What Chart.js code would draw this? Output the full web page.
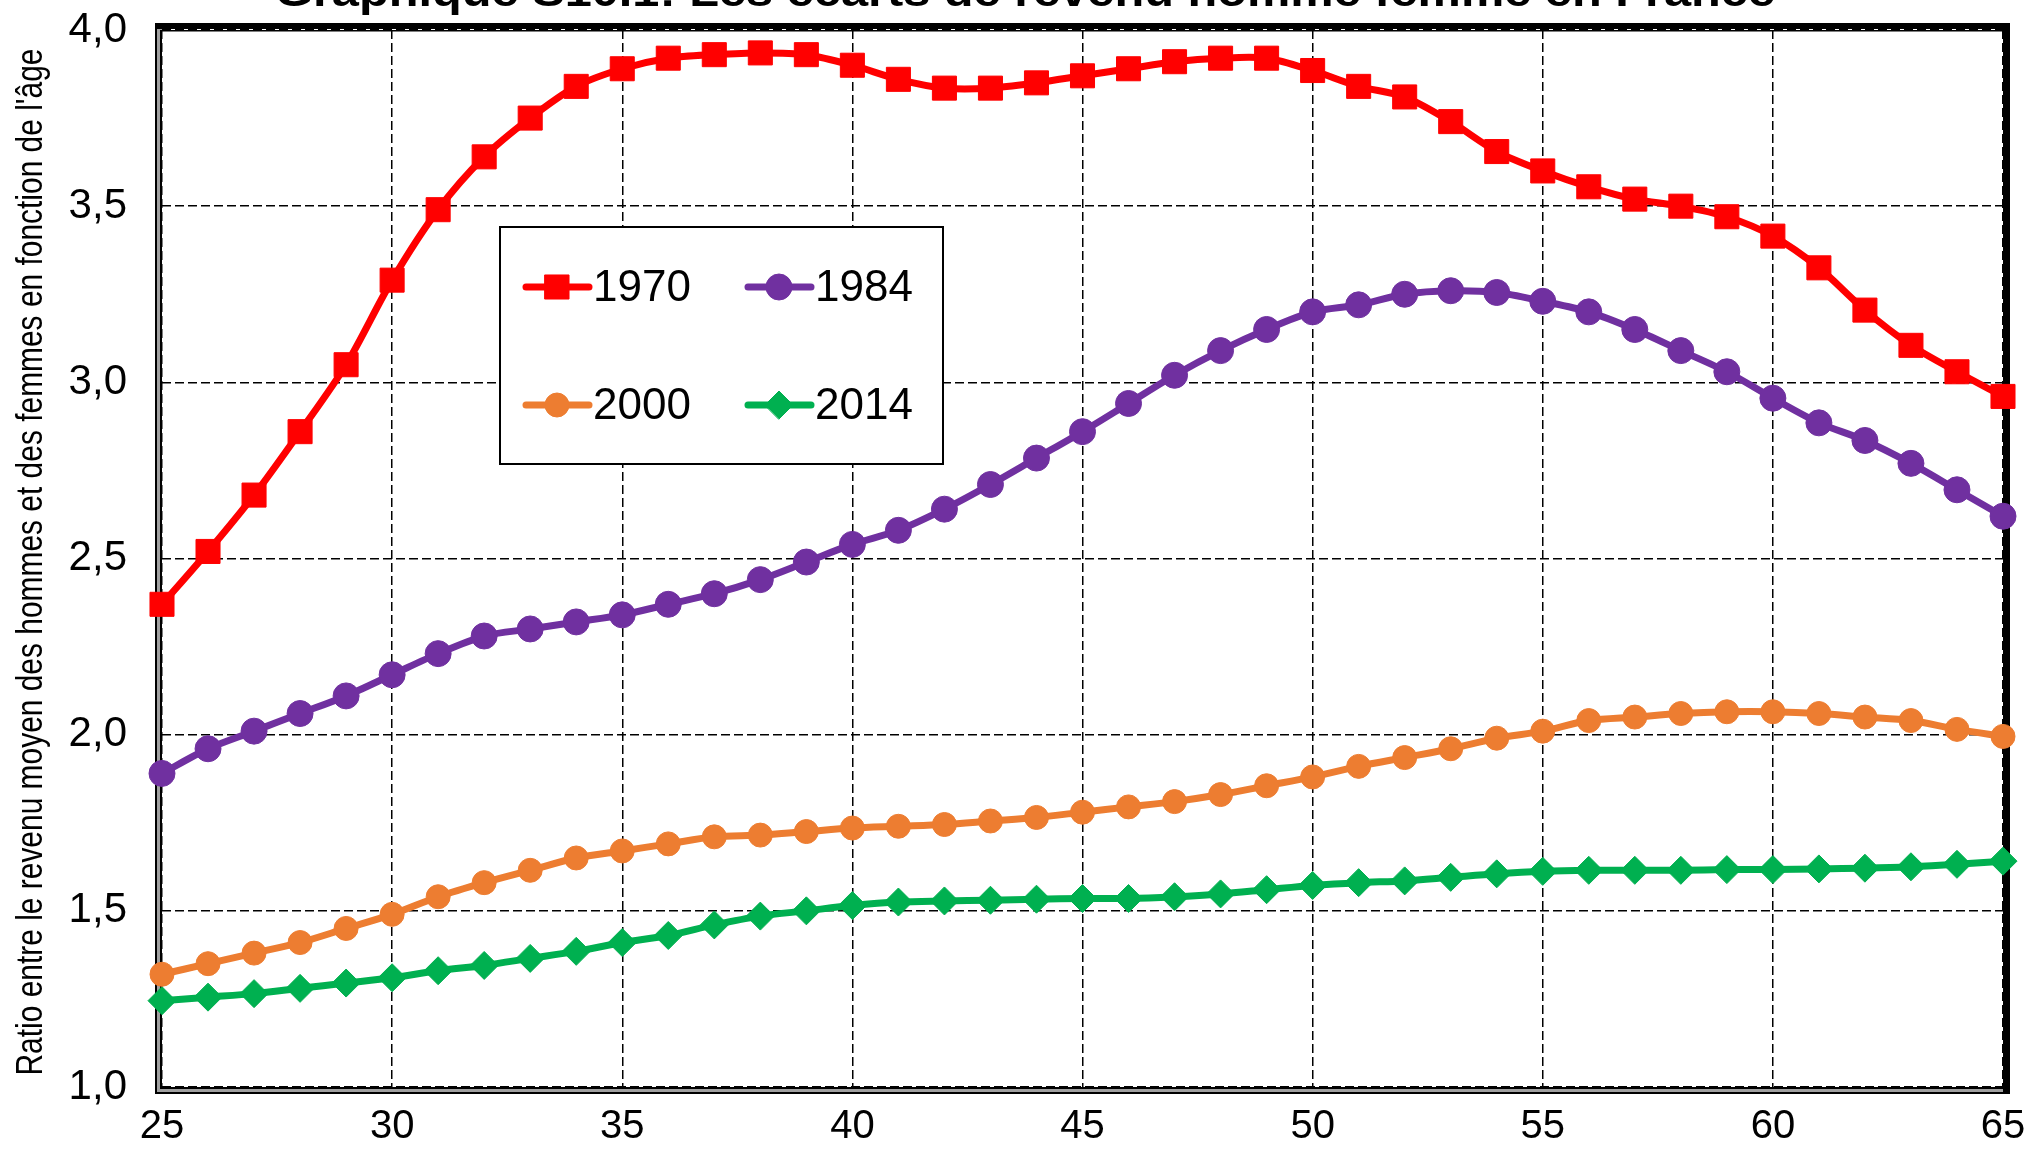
<!DOCTYPE html>
<html lang="fr">
<head>
<meta charset="utf-8">
<title>Graphique S10.1</title>
<script src="https://cdn.jsdelivr.net/npm/chart.js@4.4.1/dist/chart.umd.min.js"></script>
<style>
  html, body { margin: 0; padding: 0; background: #fff; }
  canvas { display: block; }
</style>
</head>
<body>
<canvas id="ecartChart" width="2033" height="1159"></canvas>
<script>
var ages = [25, 26, 27, 28, 29, 30, 31, 32, 33, 34, 35, 36, 37, 38, 39, 40, 41, 42, 43, 44, 45,
            46, 47, 48, 49, 50, 51, 52, 53, 54, 55, 56, 57, 58, 59, 60, 61, 62, 63, 64, 65];

var serie1970 = [2.37, 2.52, 2.68, 2.86, 3.05, 3.29, 3.49, 3.64, 3.75, 3.84, 3.89, 3.92, 3.93, 3.935, 3.93, 3.90, 3.86,
                 3.835, 3.835, 3.85, 3.87, 3.89, 3.91, 3.92, 3.92, 3.885, 3.84, 3.81, 3.74, 3.655, 3.60, 3.555, 3.52,
                 3.50, 3.47, 3.415, 3.325, 3.205, 3.105, 3.03, 2.96];
var serie1984 = [1.89, 1.96, 2.01, 2.06, 2.11, 2.17, 2.23, 2.28, 2.30, 2.32, 2.34, 2.37, 2.40, 2.44, 2.49, 2.54, 2.58,
                 2.64, 2.71, 2.785, 2.86, 2.94, 3.02, 3.09, 3.15, 3.20, 3.22, 3.25, 3.26, 3.255, 3.23, 3.20, 3.15,
                 3.09, 3.03, 2.955, 2.885, 2.835, 2.77, 2.695, 2.62];
var serie2000 = [1.32, 1.35, 1.38, 1.41, 1.45, 1.49, 1.54, 1.58, 1.615, 1.65, 1.67, 1.69, 1.71, 1.715, 1.725, 1.735, 1.74,
                 1.745, 1.755, 1.765, 1.78, 1.795, 1.81, 1.83, 1.855, 1.88, 1.91, 1.935, 1.96, 1.99, 2.01, 2.04, 2.05,
                 2.06, 2.065, 2.065, 2.06, 2.05, 2.04, 2.015, 1.995];
var serie2014 = [1.245, 1.255, 1.265, 1.28, 1.295, 1.31, 1.33, 1.345, 1.365, 1.385, 1.41, 1.43, 1.46, 1.485, 1.50, 1.515,
                 1.525, 1.528, 1.53, 1.533, 1.535, 1.535, 1.54, 1.548, 1.56, 1.572, 1.58, 1.585, 1.595, 1.605, 1.612,
                 1.615, 1.615, 1.615, 1.617, 1.617, 1.619, 1.621, 1.625, 1.632, 1.641];

var seriesNames = ['1970', '1984', '2000', '2014'];
var xTicks = [25, 30, 35, 40, 45, 50, 55, 60, 65];
var yTicks = [1.0, 1.5, 2.0, 2.5, 3.0, 3.5, 4.0];

var titre = "Graphique S10.1: Les écarts de revenu homme femme en France";
var titreAxeY = "Ratio entre le revenu moyen des hommes et des femmes en fonction de l'âge";

var police = "'Liberation Sans', Arial, sans-serif";

function points(values) {
    return ages.map(function (a, i) { return { x: a, y: values[i] }; });
}

function serie(label, values, color, style, radius) {
    return {
        label: label,
        data: points(values),
        borderColor: color,
        backgroundColor: color,
        borderWidth: 7,
        pointStyle: style,
        pointRadius: radius,
        pointHoverRadius: radius,
        pointBorderWidth: 1,
        pointBackgroundColor: color,
        pointBorderColor: color,
        tension: 0.3,
        clip: false
    };
}

// cadre façon Excel : gros trait en haut et à droite, double trait à gauche et en bas
var cadre = {
    id: 'cadre',
    beforeDatasetsDraw: function (chart) {
        var a = chart.chartArea, ctx = chart.ctx;
        var w = a.right - a.left, h = a.bottom - a.top;
        ctx.save();
        ctx.fillStyle = '#a0a0a0';
        ctx.fillRect(a.left - 7, a.top - 6, 7, h + 13);
        ctx.fillRect(a.left - 7, a.bottom, w + 13, 7);
        ctx.fillStyle = '#000';
        ctx.fillRect(a.left - 7, a.top - 6, 2, h + 13);
        ctx.fillRect(a.left - 2, a.top, 2, h + 2);
        ctx.fillRect(a.left - 7, a.bottom + 5, w + 14, 2);
        ctx.fillRect(a.left - 2, a.bottom, w + 2, 2);
        ctx.fillRect(a.left - 7, a.top - 7, w + 14, 6);
        ctx.fillRect(a.left, a.top, w, 1.5);
        ctx.fillRect(a.right, a.top - 7, 7, h + 14);
        ctx.restore();
    }
};

// légende en 2 x 2 dans un cadre
var legende = {
    id: 'legende',
    afterDraw: function (chart) {
        var ctx = chart.ctx;
        var box = { x: 500, y: 227, w: 443, h: 237 };
        var cols = [26, 248], rows = [60, 178];
        ctx.save();
        ctx.fillStyle = '#fff';
        ctx.fillRect(box.x, box.y, box.w, box.h);
        ctx.strokeStyle = '#000';
        ctx.lineWidth = 2;
        ctx.strokeRect(box.x, box.y, box.w, box.h);
        chart.data.datasets.forEach(function (ds, i) {
            var cx = box.x + cols[i % 2], cy = box.y + rows[Math.floor(i / 2)];
            ctx.strokeStyle = ds.borderColor;
            ctx.lineWidth = 7;
            ctx.lineCap = 'round';
            ctx.beginPath();
            ctx.moveTo(cx, cy);
            ctx.lineTo(cx + 63, cy);
            ctx.stroke();
            ctx.fillStyle = ds.pointBackgroundColor;
            ctx.lineWidth = 1;
            Chart.helpers.drawPoint(ctx, { pointStyle: ds.pointStyle, radius: ds.pointRadius, borderWidth: 1, rotation: 0 }, cx + 31, cy);
            ctx.fillStyle = '#000';
            ctx.font = '44px ' + police;
            ctx.textBaseline = 'middle';
            ctx.textAlign = 'left';
            ctx.fillText(ds.label, cx + 67, cy + 2);
        });
        ctx.restore();
    }
};

// titre (coupé en haut comme sur l'image) et titre de l'axe Y en police étroite
var textes = {
    id: 'textes',
    afterDraw: function (chart) {
        var ctx = chart.ctx;
        ctx.save();
        ctx.fillStyle = '#000';
        ctx.font = 'bold 42px ' + police;
        var tw = ctx.measureText(titre).width;
        ctx.translate(1025, 6);
        ctx.scale(1500 / tw, 1);
        ctx.textAlign = 'center';
        ctx.textBaseline = 'alphabetic';
        ctx.fillText(titre, 0, 0);
        ctx.restore();

        ctx.save();
        ctx.fillStyle = '#000';
        ctx.font = '37px ' + police;
        var lw = ctx.measureText(titreAxeY).width;
        ctx.translate(32, 562);
        ctx.rotate(-Math.PI / 2);
        ctx.scale(1027 / lw, 1);
        ctx.textAlign = 'center';
        ctx.textBaseline = 'middle';
        ctx.fillText(titreAxeY, 0, 0);
        ctx.restore();
    }
};

var ctx = document.getElementById('ecartChart').getContext('2d');
new Chart(ctx, {
    type: 'line',
    data: {
        datasets: [
            serie(seriesNames[0], serie1970, '#FF0000', 'rect', 17),
            serie(seriesNames[1], serie1984, '#7030A0', 'circle', 13),
            serie(seriesNames[2], serie2000, '#ED7D31', 'circle', 12),
            serie(seriesNames[3], serie2014, '#00B050', 'rectRot', 14)
        ]
    },
    options: {
        responsive: false,
        animation: false,
        maintainAspectRatio: false,
        layout: { padding: { left: 0, top: 30, right: 30, bottom: 0 } },
        plugins: {
            legend: { display: false },
            tooltip: { enabled: false },
            title: { display: false }
        },
        scales: {
            x: {
                type: 'linear',
                min: 25,
                max: 65,
                afterBuildTicks: function (s) { s.ticks = xTicks.map(function (v) { return { value: v }; }); },
                afterFit: function (s) { s.height = 72; s.paddingLeft = 0; s.paddingRight = 0; },
                grid: { color: '#000', lineWidth: 1.5, drawTicks: false },
                border: { display: false, dash: [9, 4] },
                ticks: {
                    color: '#000',
                    padding: 16,
                    maxRotation: 0,
                    font: { size: 40, family: police },
                    callback: function (v) { return String(v); }
                }
            },
            y: {
                min: 1,
                max: 4,
                afterBuildTicks: function (s) { s.ticks = yTicks.map(function (v) { return { value: v }; }); },
                afterFit: function (s) { s.width = 162; s.paddingTop = 0; s.paddingBottom = 0; },
                grid: { color: '#000', lineWidth: 1.5, drawTicks: false },
                border: { display: false, dash: [9, 4] },
                ticks: {
                    color: '#000',
                    padding: 35,
                    font: { size: 42, family: police },
                    callback: function (v) { return v.toFixed(1).replace('.', ','); }
                }
            }
        }
    },
    plugins: [cadre, legende, textes]
});
</script>
</body>
</html>
